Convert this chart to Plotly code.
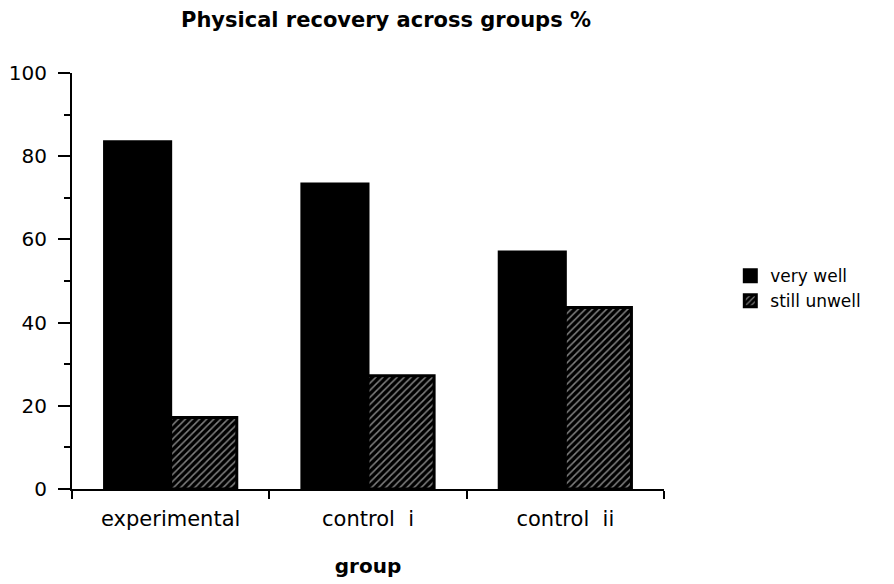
import plotly.graph_objects as go

groups = ["experimental", "control  i", "control  ii"]
very_well = [83.5, 73.3, 57.0]
still_unwell = [17.2, 27.2, 43.6]
y_ticks = [0, 20, 40, 60, 80, 100]

FONT = "DejaVu Sans, Liberation Sans, Arial, sans-serif"

fig = go.Figure()
fig.add_trace(go.Bar(
    x=groups, y=very_well, name="very well",
    marker=dict(color="black", line=dict(width=3, color="black")),
))
fig.add_trace(go.Bar(
    x=groups, y=still_unwell, name="still unwell",
    marker=dict(color="black", line=dict(width=3, color="black"),
                pattern=dict(shape="/", fgcolor="white", bgcolor="black",
                             size=5, solidity=0.3)),
))

fig.update_layout(
    width=894, height=584,
    paper_bgcolor="white", plot_bgcolor="white",
    margin=dict(l=64, r=238, t=65, b=103, autoexpand=False),
    barmode="group", bargap=0.33, bargroupgap=0,
    font=dict(family=FONT, color="black", size=17),
    title=dict(text="<b>Physical recovery across groups %</b>",
               x=378 / 894, xanchor="center", y=1 - 12 / 584, yanchor="middle",
               font=dict(size=21, family=FONT, color="black")),
    showlegend=True,
    legend=dict(x=1.112, y=0.555, xanchor="left", yanchor="top",
                font=dict(size=17, family=FONT), itemwidth=30,
                tracegroupgap=2, bgcolor="rgba(0,0,0,0)"),
)

fig.update_xaxes(
    type="category", range=[-0.5, 2.5], automargin=False,
    showline=True, linecolor="black", linewidth=2,
    ticks="outside", tickson="boundaries", ticklen=8, tickwidth=2, tickcolor="black",
    showgrid=False, zeroline=False,
    tickfont=dict(size=21, family=FONT),
    ticklabelstandoff=10,
    title=dict(text="<b>group</b>", font=dict(size=20, family=FONT), standoff=29),
)
fig.update_yaxes(
    range=[0, 100], tickvals=y_ticks, automargin=False,
    showline=True, linecolor="black", linewidth=2,
    ticks="outside", ticklen=12, tickwidth=2, tickcolor="black",
    minor=dict(dtick=10, ticks="outside", ticklen=6, tickwidth=2, tickcolor="black", showgrid=False),
    showgrid=False, zeroline=False,
    tickfont=dict(size=20, family=FONT),
    ticklabelstandoff=7,
)

fig.write_html("out.html")
